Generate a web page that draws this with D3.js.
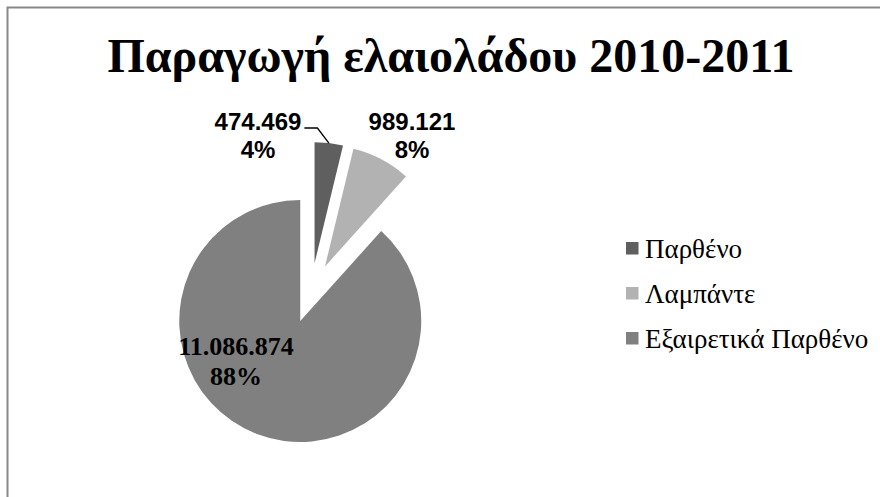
<!DOCTYPE html>
<html>
<head>
<meta charset="utf-8">
<script src="https://cdn.jsdelivr.net/npm/d3@7"></script>
<style>
  body { margin: 0; background: #fff; }
  svg { display: block; }
</style>
</head>
<body>
<div id="chart"></div>
<script>
// olive oil production 2010-2011
var categories = ["Παρθένο", "Λαμπάντε", "Εξαιρετικά Παρθένο"];
var values = [474469, 989121, 11086874];
var colors = ["#5f5f5f", "#b2b2b2", "#808080"];
var title = "Παραγωγή ελαιολάδου 2010-2011";

var width = 880, height = 497;
var cx = 311, cy = 293, radius = 121, explode = 30;
var SERIF = "Liberation Serif", SANS = "Liberation Sans";

var grLocale = d3.formatLocale({decimal: ",", thousands: ".", grouping: [3], currency: ["", "€"]});
var fmtNum = grLocale.format(",d");
var total = d3.sum(values);

var svg = d3.select("#chart")
  .append("svg")
    .attr("width", width)
    .attr("height", height);

// chart frame (only left and top edges visible)
svg.append("path")
  .attr("d", "M7.5," + height + "V7.5H" + width)
  .attr("fill", "none")
  .attr("stroke", "#888")
  .attr("stroke-width", 2);

svg.append("text")
  .attr("x", 451)
  .attr("y", 72)
  .attr("text-anchor", "middle")
  .attr("font-family", SERIF)
  .attr("font-weight", "bold")
  .attr("font-size", 48)
  .text(title);

var pie = d3.pie().sort(null).value(function(d) { return d; });
var arcs = pie(values);
var arc = d3.arc().innerRadius(0).outerRadius(radius);

function offset(d, k) {
  var a = (d.startAngle + d.endAngle) / 2;
  return [k * Math.sin(a), -k * Math.cos(a)];
}

var g = svg.append("g")
  .attr("transform", "translate(" + cx + "," + cy + ")");

g.selectAll("path.slice")
  .data(arcs)
  .enter()
  .append("path")
  .attr("class", "slice")
  .attr("d", arc)
  .attr("transform", function(d) {
    var o = offset(d, explode);
    return "translate(" + o[0] + "," + o[1] + ")";
  })
  .style("fill", function(d, i) { return colors[i]; });

// label placement (layout only)
var labelPos = [
  {x: 258, y: 130, size: 24, font: SANS, lh: 28},
  {x: 412, y: 130, size: 24, font: SANS, lh: 28},
  {x: 236, y: 355, size: 26, font: SERIF, lh: 30}
];

var labels = svg.selectAll("text.lbl")
  .data(arcs)
  .enter()
  .append("text")
  .attr("class", "lbl")
  .attr("text-anchor", "middle")
  .attr("font-family", function(d, i) { return labelPos[i].font; })
  .attr("font-size", function(d, i) { return labelPos[i].size; })
  .attr("font-weight", "bold")
  .attr("fill", "#000");

labels.append("tspan")
  .attr("x", function(d, i) { return labelPos[i].x; })
  .attr("y", function(d, i) { return labelPos[i].y; })
  .text(function(d) { return fmtNum(d.value); });

labels.append("tspan")
  .attr("x", function(d, i) { return labelPos[i].x; })
  .attr("dy", function(d, i) { return labelPos[i].lh; })
  .text(function(d) { return Math.round(d.value / total * 100) + "%"; });

// leader line for the first slice
var first = arcs[0];
var o1 = offset(first, explode);
var tip = offset(first, radius);
var endX = cx + o1[0] + tip[0], endY = cy + o1[1] + tip[1];
var lb = labels.nodes()[0].getBBox();
var startX = lb.x + lb.width + 3, startY = labelPos[0].y - 2;
svg.append("polyline")
  .attr("points", [[startX, startY], [startX + 13, startY], [endX, endY]].join(" "))
  .attr("fill", "none")
  .attr("stroke", "#000")
  .attr("stroke-width", 1.3);

// legend
var legend = svg.append("g")
  .attr("transform", "translate(626,258)");

var items = legend.selectAll("g")
  .data(categories)
  .enter()
  .append("g")
  .attr("transform", function(d, i) { return "translate(0," + i * 45 + ")"; });

items.append("rect")
  .attr("y", -16)
  .attr("width", 12.5)
  .attr("height", 12.5)
  .style("fill", function(d, i) { return colors[i]; });

items.append("text")
  .attr("x", 19)
  .attr("y", 0)
  .attr("font-family", SERIF)
  .attr("font-size", 27)
  .text(function(d) { return d; });
</script>
</body>
</html>
